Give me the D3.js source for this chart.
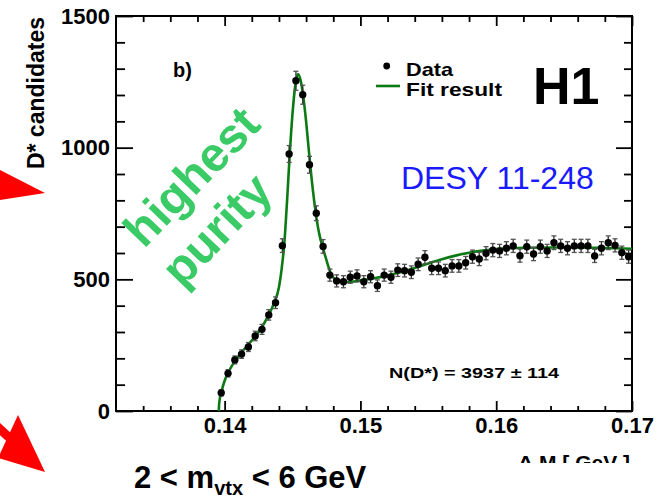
<!DOCTYPE html>
<html>
<head>
<meta charset="utf-8">
<script src="https://cdn.jsdelivr.net/npm/d3@7/dist/d3.min.js"></script>
<style>
body { margin: 0; background: #fff; }
svg { display: block; }
text { font-family: "Liberation Sans", Arial, Helvetica, sans-serif; }
</style>
</head>
<body>
<svg id="chart" width="664" height="498"></svg>
<script>
// bin centres of the Delta M histogram [GeV]
const binCenters = [
  0.13975, 0.14025, 0.14075, 0.14125, 0.14175, 0.14225, 0.14275, 0.14325, 0.14375, 0.14425,
  0.14475, 0.14525, 0.14575, 0.14625, 0.14675, 0.14725, 0.14775, 0.14825, 0.14875, 0.14925,
  0.14975, 0.15025, 0.15075, 0.15125, 0.15175, 0.15225, 0.15275, 0.15325, 0.15375, 0.15425,
  0.15475, 0.15525, 0.15575, 0.15625, 0.15675, 0.15725, 0.15775, 0.15825, 0.15875, 0.15925,
  0.15975, 0.16025, 0.16075, 0.16125, 0.16175, 0.16225, 0.16275, 0.16325, 0.16375, 0.16425,
  0.16475, 0.16525, 0.16575, 0.16625, 0.16675, 0.16725, 0.16775, 0.16825, 0.16875, 0.16925,
  0.16975
]
// D* candidates per bin
const counts = [
  69, 143, 194, 216, 243, 285, 310, 365, 411, 628,
  976, 1254, 1201, 935, 751, 625, 516, 494, 491, 508,
  513, 491, 510, 476, 516, 508, 535, 533, 527, 557,
  584, 542, 542, 533, 551, 551, 563, 586, 577, 599,
  611, 608, 618, 627, 590, 624, 596, 624, 608, 639,
  627, 618, 627, 627, 627, 589, 618, 639, 629, 601,
  586
]
const errors = [
  12, 14, 15, 16, 17, 18, 19, 20, 22, 26,
  32, 36, 36, 32, 28, 26, 23, 23, 23, 23,
  23, 23, 23, 22, 23, 23, 24, 24, 24, 24,
  25, 24, 24, 24, 24, 24, 24, 25, 25, 25,
  25, 25, 25, 25, 25, 25, 25, 25, 25, 26,
  25, 25, 25, 25, 25, 25, 25, 26, 25, 25,
  25
]
// fit result
const fitX = [0.13957, 0.1396, 0.1398, 0.1400, 0.1403, 0.1407, 0.1412, 0.1417, 0.1422, 0.1427,
  0.1432, 0.1436, 0.1440, 0.1442, 0.1444, 0.1446, 0.1448, 0.1450, 0.1452, 0.1454,
  0.1456, 0.1458, 0.1460, 0.1462, 0.1464, 0.1466, 0.1468, 0.1470, 0.1472, 0.1474,
  0.1476, 0.1478, 0.1480, 0.1483, 0.1486, 0.1490, 0.1495, 0.1500, 0.1510, 0.1520,
  0.1530, 0.1540, 0.1550, 0.1560, 0.1570, 0.1580, 0.1590, 0.1600, 0.1610, 0.1620,
  0.1640, 0.1660, 0.1680, 0.1700]
const fitY = [0, 30, 80, 115, 150, 185, 220, 250, 280, 315,
  360, 405, 470, 540, 640, 800, 980, 1130, 1235, 1280,
  1255, 1190, 1100, 990, 885, 795, 720, 665, 625, 590,
  555, 525, 507, 496, 491, 490, 492, 496, 504, 515,
  528, 543, 560, 576, 590, 601, 609, 615, 618, 620,
  621, 621, 619, 616]

const xMajor = [0.14, 0.15, 0.16, 0.17]
const xMinor = [0.134, 0.136, 0.138, 0.142, 0.144, 0.146, 0.148, 0.152, 0.154, 0.156, 0.158, 0.162, 0.164, 0.166, 0.168]
const yMajor = [0, 500, 1000, 1500]
const yMinor = [100, 200, 300, 400, 600, 700, 800, 900, 1100, 1200, 1300, 1400]

let svg = d3.select("#chart")
let margin = { left: 116, right: 32, top: 16, bottom: 87 }
let width = 664, height = 498

let xScale = d3.scaleLinear().domain([0.132, 0.17]).range([margin.left, width - margin.right])
let yScale = d3.scaleLinear().domain([0, 1500]).range([height - margin.bottom, margin.top])

let green = "#0c7a12"
let purityGreen = "#3acb67"

// red arrows cut at the left edge
svg.append("polygon").attr("points", "0,170 45,193 0,200").attr("fill", "#ff0000")
svg.append("line").attr("x1", -10).attr("y1", 420).attr("x2", 14).attr("y2", 442)
  .attr("stroke", "#ff0000").attr("stroke-width", 9)
svg.append("polygon").attr("points", "18,415 45,472 -2,458").attr("fill", "#ff0000")

// axes: ticks point into the frame
function tidy(g) {
  g.select(".domain").remove()
  g.selectAll(".tick line").attr("stroke", "#000").attr("stroke-width", 1.8)
}
let y0 = yScale(0), y1 = yScale(1500), x0 = xScale(0.132), x1 = xScale(0.17)

svg.append("g").attr("transform", "translate(0," + y0 + ")")
  .call(d3.axisBottom(xScale).tickValues(xMinor).tickSizeInner(-5).tickSizeOuter(0).tickFormat(""))
  .call(tidy)
let xAxis = svg.append("g").attr("transform", "translate(0," + y0 + ")")
  .call(d3.axisBottom(xScale).tickValues(xMajor).tickSizeInner(-10).tickSizeOuter(0).tickPadding(6).tickFormat(d3.format(".2f")))
  .call(tidy)
xAxis.selectAll("text").attr("font-size", 22).attr("font-weight", "bold").attr("fill", "#000")
  .attr("font-family", "'Liberation Sans', Arial, sans-serif")

svg.append("g").attr("transform", "translate(0," + y1 + ")")
  .call(d3.axisTop(xScale).tickValues(xMinor).tickSizeInner(-6).tickSizeOuter(0).tickFormat(""))
  .call(tidy)
svg.append("g").attr("transform", "translate(0," + y1 + ")")
  .call(d3.axisTop(xScale).tickValues(xMajor).tickSizeInner(-10).tickSizeOuter(0).tickFormat(""))
  .call(tidy)

svg.append("g").attr("transform", "translate(" + x0 + ",0)")
  .call(d3.axisLeft(yScale).tickValues(yMinor).tickSizeInner(-9).tickSizeOuter(0).tickFormat(""))
  .call(tidy)
let yAxis = svg.append("g").attr("transform", "translate(" + x0 + ",0)")
  .call(d3.axisLeft(yScale).tickValues(yMajor).tickSizeInner(-17).tickSizeOuter(0).tickPadding(6).tickFormat(d3.format("d")))
  .call(tidy)
yAxis.selectAll("text").attr("font-size", 22).attr("font-weight", "bold").attr("fill", "#000")
  .attr("font-family", "'Liberation Sans', Arial, sans-serif")

svg.append("g").attr("transform", "translate(" + x1 + ",0)")
  .call(d3.axisRight(yScale).tickValues(yMinor).tickSizeInner(-8).tickSizeOuter(0).tickFormat(""))
  .call(tidy)
svg.append("g").attr("transform", "translate(" + x1 + ",0)")
  .call(d3.axisRight(yScale).tickValues(yMajor).tickSizeInner(-16).tickSizeOuter(0).tickFormat(""))
  .call(tidy)

// frame
svg.append("rect").attr("x", x0).attr("y", y1).attr("width", x1 - x0).attr("height", y0 - y1)
  .attr("fill", "none").attr("stroke", "#000").attr("stroke-width", 2)

// axis titles
svg.append("text").attr("transform", "translate(44," + (y1 + 1) + ") rotate(-90)")
  .attr("text-anchor", "end").attr("font-size", 23).attr("font-weight", "bold")
  .text("D* candidates")

svg.append("text").attr("x", 630).attr("y", 470).attr("text-anchor", "end")
  .attr("font-size", 21).attr("font-weight", "bold").text("\u0394 M [ GeV ]")
// lower part of the x title is hidden
svg.append("rect").attr("x", 380).attr("y", 463).attr("width", 284).attr("height", 35).attr("fill", "#fff")

// green annotation
svg.append("text").attr("transform", "translate(193,178) rotate(-46)")
  .attr("text-anchor", "middle").attr("dy", "0.3em").attr("font-size", 48).attr("font-weight", "bold")
  .attr("fill", purityGreen).text("highest")
svg.append("text").attr("transform", "translate(218,231) rotate(-46)")
  .attr("text-anchor", "middle").attr("dy", "0.3em").attr("font-size", 48).attr("font-weight", "bold")
  .attr("fill", purityGreen).text("purity")

// fit curve
svg.append("clipPath").attr("id", "plotClip").append("rect")
  .attr("x", x0).attr("y", y1).attr("width", x1 - x0).attr("height", y0 - y1)

let fitLine = d3.line()
  .x((d, i) => xScale(fitX[i]))
  .y(d => yScale(d))
  .curve(d3.curveMonotoneX)
svg.append("path").datum(fitY).attr("d", fitLine)
  .attr("clip-path", "url(#plotClip)")
  .attr("fill", "none").attr("stroke", green).attr("stroke-width", 2.6)

// data points with error bars
let pts = svg.append("g")
counts.forEach((c, i) => {
  let px = xScale(binCenters[i])
  let lo = yScale(c - errors[i]), hi = yScale(c + errors[i])
  pts.append("line").attr("x1", px).attr("x2", px).attr("y1", lo).attr("y2", hi)
    .attr("stroke", "#333").attr("stroke-width", 1.3)
  pts.append("line").attr("x1", px - 2.5).attr("x2", px + 2.5).attr("y1", lo).attr("y2", lo)
    .attr("stroke", "#555").attr("stroke-width", 1.3)
  pts.append("line").attr("x1", px - 2.5).attr("x2", px + 2.5).attr("y1", hi).attr("y2", hi)
    .attr("stroke", "#555").attr("stroke-width", 1.3)
  pts.append("circle").attr("cx", px).attr("cy", yScale(c)).attr("r", 3.7).attr("fill", "#000")
})

// labels inside the frame
svg.append("text").attr("x", 173).attr("y", 77).attr("font-family", "'Liberation Serif', 'Times New Roman', serif")
  .attr("font-size", 20).attr("font-weight", "bold").text("b)")

svg.append("circle").attr("cx", 386.7).attr("cy", 66).attr("r", 3.4).attr("fill", "#000")
svg.append("text").attr("x", 406).attr("y", 75.5).attr("font-size", 19).attr("font-weight", "bold")
  .attr("textLength", 47).attr("lengthAdjust", "spacingAndGlyphs").text("Data")
svg.append("line").attr("x1", 376).attr("x2", 400).attr("y1", 86).attr("y2", 86)
  .attr("stroke", green).attr("stroke-width", 2.6)
svg.append("text").attr("x", 406).attr("y", 95.5).attr("font-size", 19).attr("font-weight", "bold")
  .attr("textLength", 96).attr("lengthAdjust", "spacingAndGlyphs").text("Fit result")

svg.append("text").attr("x", 533).attr("y", 104).attr("font-size", 52).attr("font-weight", "bold").text("H1")

svg.append("text").attr("x", 401).attr("y", 189).attr("font-size", 32).attr("fill", "#1a1aff").text("DESY 11-248")

svg.append("text").attr("x", 389).attr("y", 378).attr("font-size", 15).attr("font-weight", "bold")
  .attr("textLength", 170).attr("lengthAdjust", "spacingAndGlyphs")
  .text("N(D*) = 3937 \u00b1 114")

// bin selection below the plot
let sel = svg.append("text").attr("x", 134).attr("y", 488).attr("font-size", 31).attr("font-weight", "bold")
sel.append("tspan").text("2 < m")
sel.append("tspan").attr("font-size", 20).attr("dy", 7).text("vtx")
sel.append("tspan").attr("dy", -7).text(" < 6 GeV")
</script>
</body>
</html>
